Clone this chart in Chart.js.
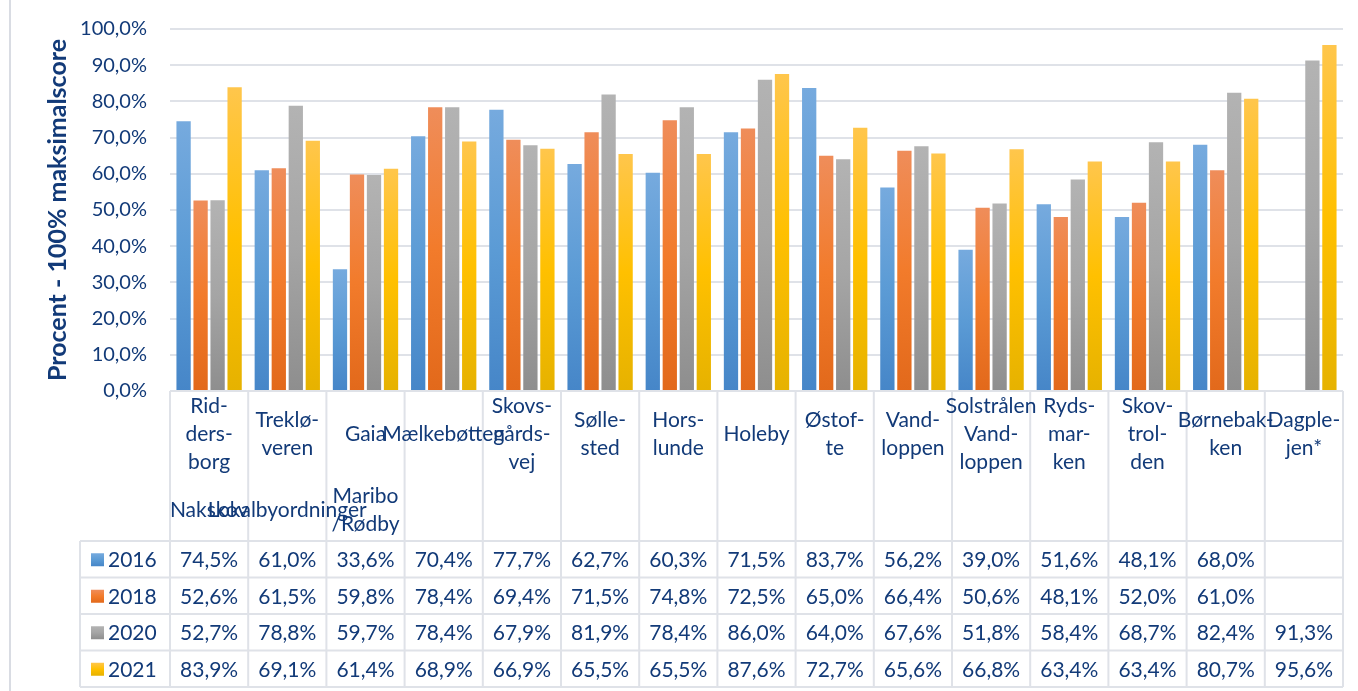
<!DOCTYPE html>
<html>
<head>
<meta charset="utf-8">
<script src="https://cdn.jsdelivr.net/npm/chart.js@4/dist/chart.umd.min.js"></script>
<style>
  html, body { margin: 0; padding: 0; background: #fff; }
  canvas { display: block; }
</style>
</head>
<body>
<canvas id="chart" width="1358" height="691"></canvas>
<script>
// kategorier (linjeskift som i originalen)
const categories = [
    ["Rid-", "ders-", "borg"],
    ["Treklø-", "veren"],
    ["Gaia"],
    ["Mælkebøtten"],
    ["Skovs-", "gårds-", "vej"],
    ["Sølle-", "sted"],
    ["Hors-", "lunde"],
    ["Holeby"],
    ["Østof-", "te"],
    ["Vand-", "loppen"],
    ["Solstrålen", "Vand-", "loppen"],
    ["Ryds-", "mar-", "ken"],
    ["Skov-", "trol-", "den"],
    ["Børnebak-", "ken"],
    ["Dagple-", "jen*"]
];
// ydre kategori-niveau
const outerLabels = [["Nakskov"], ["Lokalbyordninger"], ["Maribo", "/Rødby"], [], [], [], [], [], [], [], [], [], [], [], []];

const years = ["2016", "2018", "2020", "2021"];
const values2016 = [74.5, 61.0, 33.6, 70.4, 77.7, 62.7, 60.3, 71.5, 83.7, 56.2, 39.0, 51.6, 48.1, 68.0, null];
const values2018 = [52.6, 61.5, 59.8, 78.4, 69.4, 71.5, 74.8, 72.5, 65.0, 66.4, 50.6, 48.1, 52.0, 61.0, null];
const values2020 = [52.7, 78.8, 59.7, 78.4, 67.9, 81.9, 78.4, 86.0, 64.0, 67.6, 51.8, 58.4, 68.7, 82.4, 91.3];
const values2021 = [83.9, 69.1, 61.4, 68.9, 66.9, 65.5, 65.5, 87.6, 72.7, 65.6, 66.8, 63.4, 63.4, 80.7, 95.6];
const yTicks = [0, 10, 20, 30, 40, 50, 60, 70, 80, 90, 100];

const TEXT_COLOR = "#123a78";
const LINE_COLOR = "#dfe2e8";
const FONT = "Lato";

// gradient farver (top, midt, bund) ligesom Excel
const gradients = [
    ["#76aade", "#5b9bd5", "#4686c8"],
    ["#ef8d5a", "#f27b2b", "#e2691b"],
    ["#b3b3b3", "#a5a5a5", "#8e8e8e"],
    ["#ffc64c", "#ffc000", "#e6b200"]
];

function fmt(v) {
    return v.toFixed(1).replace(".", ",") + "%";
}

function barGradient(seriesIndex) {
    return function (context) {
        const chart = context.chart;
        const area = chart.chartArea;
        const stops = gradients[seriesIndex];
        if (!area || context.raw == null) return stops[1];
        const yScale = chart.scales.y;
        const top = yScale.getPixelForValue(context.raw);
        const bottom = yScale.getPixelForValue(0);
        const g = chart.ctx.createLinearGradient(0, top, 0, bottom);
        g.addColorStop(0, stops[0]);
        g.addColorStop(0.5, stops[1]);
        g.addColorStop(1, stops[2]);
        return g;
    };
}

// tegner datatabel, kategori-tekster og ramme under plottet
const tablePlugin = {
    id: "dataTable",
    afterDraw(chart) {
        const ctx = chart.ctx;
        const xScale = chart.scales.x;
        const area = chart.chartArea;
        const n = categories.length;
        const catW = (area.right - area.left) / n;
        const tableTop = 541;
        const rowH = 36.5;
        const tableBottom = tableTop + rowH * years.length;
        const legendLeft = 80;

        ctx.save();
        // ydre ramme (venstre kant)
        ctx.strokeStyle = "#d9dce3";
        ctx.lineWidth = 2;
        ctx.beginPath();
        ctx.moveTo(10, 0);
        ctx.lineTo(10, 691);
        ctx.stroke();

        ctx.strokeStyle = LINE_COLOR;
        ctx.lineWidth = 2;
        ctx.beginPath();
        for (let i = 0; i <= n; i++) {
            const x = area.left + i * catW;
            ctx.moveTo(x, area.bottom);
            ctx.lineTo(x, tableBottom);
        }
        for (let r = 0; r <= years.length; r++) {
            const y = tableTop + r * rowH;
            ctx.moveTo(legendLeft, y);
            ctx.lineTo(area.right, y);
        }
        ctx.moveTo(legendLeft, tableTop);
        ctx.lineTo(legendLeft, tableBottom);
        ctx.stroke();

        ctx.fillStyle = TEXT_COLOR;
        ctx.font = "21px " + FONT;
        ctx.textAlign = "center";
        ctx.textBaseline = "middle";
        const lineH = 28;

        categories.forEach((lines, i) => {
            const x = xScale.getPixelForValue(i);
            const y0 = 434 - (lines.length - 1) * lineH / 2;
            lines.forEach((t, k) => ctx.fillText(t, x, y0 + k * lineH));
        });
        outerLabels.forEach((lines, i) => {
            const x = xScale.getPixelForValue(i);
            const y0 = 510 - (lines.length - 1) * lineH / 2;
            lines.forEach((t, k) => ctx.fillText(t, x, y0 + k * lineH));
        });

        chart.data.datasets.forEach((ds, r) => {
            const yc = tableTop + rowH * (r + 0.5);
            ds.data.forEach((v, i) => {
                if (v == null) return;
                ctx.fillText(fmt(v), xScale.getPixelForValue(i), yc + 1);
            });
            // legende-nøgle
            const stops = gradients[r];
            const g = ctx.createLinearGradient(0, yc - 6, 0, yc + 7);
            g.addColorStop(0, stops[0]);
            g.addColorStop(0.5, stops[1]);
            g.addColorStop(1, stops[2]);
            ctx.fillStyle = g;
            ctx.fillRect(91, yc - 6, 13, 13);
            ctx.fillStyle = TEXT_COLOR;
            ctx.textAlign = "left";
            ctx.fillText(ds.label, 108, yc + 1);
            ctx.textAlign = "center";
        });
        ctx.restore();
    }
};

const seriesValues = [values2016, values2018, values2020, values2021];

new Chart(document.getElementById("chart"), {
    type: "bar",
    data: {
        labels: categories.map(c => c.join("").replace("-", "")),
        datasets: years.map((year, i) => ({
            label: year,
            data: seriesValues[i],
            backgroundColor: barGradient(i),
            borderWidth: 0,
            categoryPercentage: 0.87,
            barPercentage: 0.84
        }))
    },
    options: {
        responsive: false,
        animation: false,
        devicePixelRatio: 1,
        layout: {
            padding: { left: 0, top: 29, right: 15, bottom: 300 }
        },
        scales: {
            x: {
                display: false
            },
            y: {
                min: 0,
                max: 100,
                afterBuildTicks: scale => {
                    scale.ticks = yTicks.map(v => ({ value: v }));
                },
                afterFit: scale => {
                    scale.width = 170;
                },
                border: { display: false },
                grid: {
                    color: LINE_COLOR,
                    lineWidth: 2,
                    drawTicks: true,
                    tickLength: 23,
                    tickColor: "rgba(0,0,0,0)"
                },
                ticks: {
                    padding: 0,
                    color: TEXT_COLOR,
                    font: { family: FONT, size: 20 },
                    callback: v => fmt(v)
                },
                title: {
                    display: true,
                    text: "Procent - 100% maksimalscore",
                    color: TEXT_COLOR,
                    font: { family: FONT, size: 25, weight: "bold" },
                    padding: { top: 43, bottom: 0 }
                }
            }
        },
        plugins: {
            legend: { display: false },
            tooltip: { enabled: true }
        }
    },
    plugins: [tablePlugin]
});
</script>
</body>
</html>
